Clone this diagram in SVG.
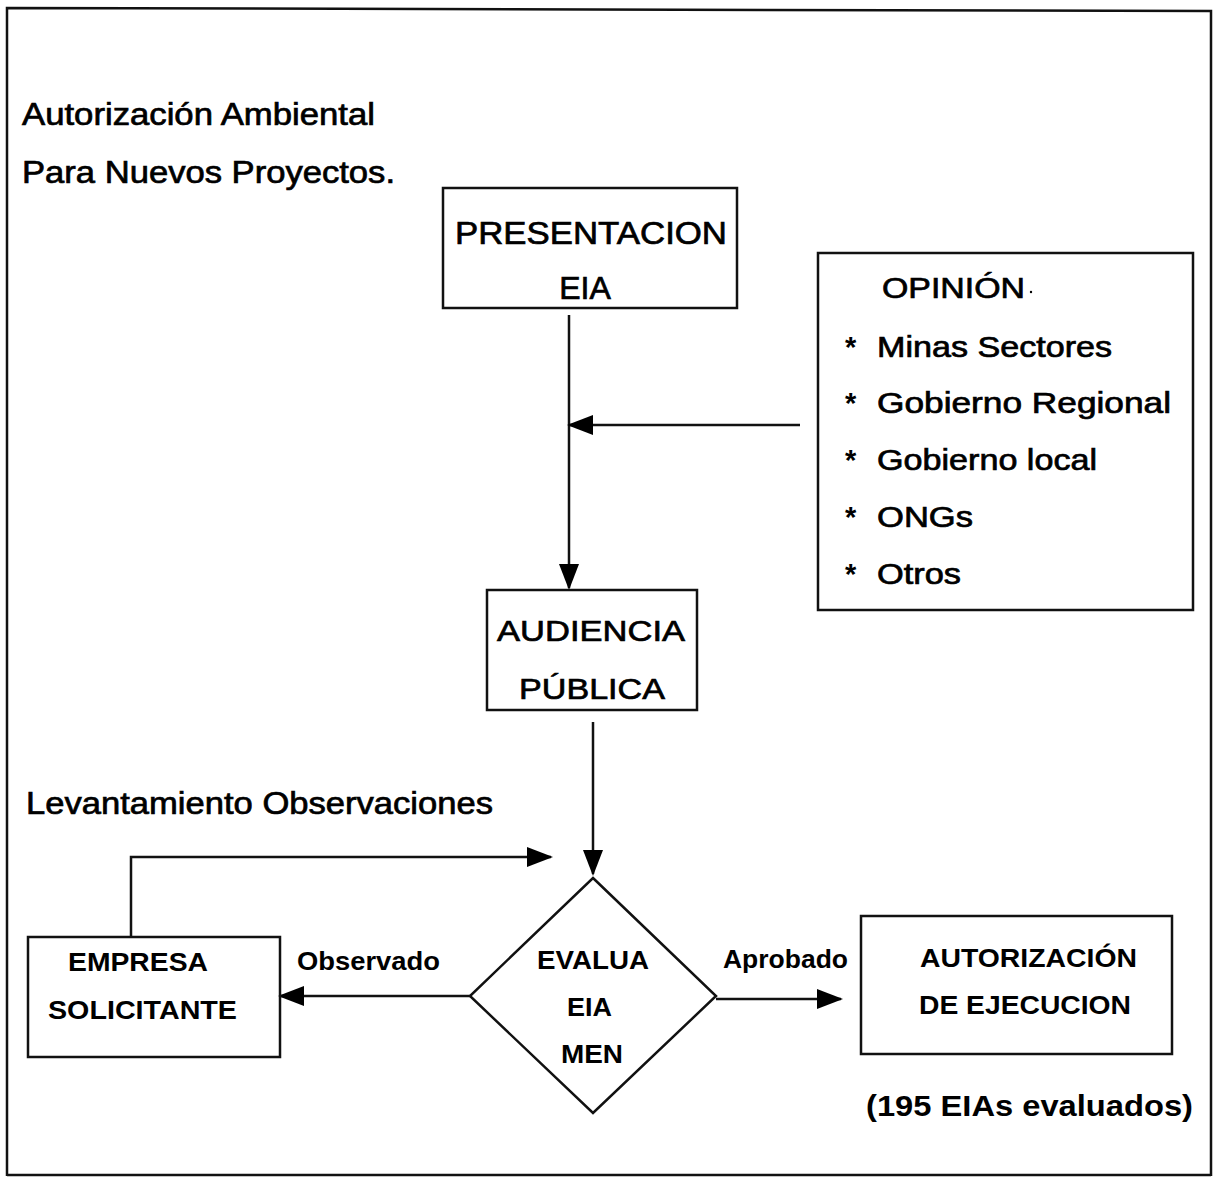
<svg xmlns="http://www.w3.org/2000/svg" width="1213" height="1178" viewBox="0 0 1213 1178">
<defs>
<style>
.t{font-family:"Liberation Sans",Arial,sans-serif;fill:#000;}
.r{stroke:#000;stroke-width:0.7;}
.b{font-weight:bold;}
.box{fill:none;stroke:#111;stroke-width:2.5;}
.ln{fill:none;stroke:#111;stroke-width:2.5;}
</style>
<marker id="ahb" viewBox="0 0 26 20" refX="24" refY="10" markerWidth="26" markerHeight="20" markerUnits="userSpaceOnUse" orient="auto">
<path d="M0,0 L26,10 L0,20 z" fill="#000"/>
</marker>
</defs>
<rect width="1213" height="1178" fill="#fff"/>
<path d="M7,1176 L7,8 L1211,11 L1211,1176" class="ln" stroke-width="2"/>
<path d="M7,1175 L1211,1175" class="ln" stroke-width="1.5" stroke="#444"/>

<text class="t r" x="22" y="125" font-size="31" textLength="353" lengthAdjust="spacingAndGlyphs">Autorización Ambiental</text>
<text class="t r" x="22" y="183" font-size="31" textLength="373" lengthAdjust="spacingAndGlyphs">Para Nuevos Proyectos.</text>
<text class="t r" x="26" y="814" font-size="31" textLength="467" lengthAdjust="spacingAndGlyphs">Levantamiento Observaciones</text>

<g id="connectors">
<path class="ln" d="M569,315 L569,588" marker-end="url(#ahb)"/>
<path class="ln" d="M800,425 L569,425" marker-end="url(#ahb)"/>
<path class="ln" d="M593,722 L593,874" marker-end="url(#ahb)"/>
<path class="ln" d="M131,937 L131,857 L551,857" marker-end="url(#ahb)"/>
<path class="ln" d="M470,996 L280,996" marker-end="url(#ahb)"/>
<path class="ln" d="M716,999 L841,999" marker-end="url(#ahb)"/>
</g>

<g id="presentacion">
<rect class="box" x="443" y="188" width="294" height="120"/>
<text class="t r" x="455" y="244" font-size="32" textLength="272" lengthAdjust="spacingAndGlyphs">PRESENTACION</text>
<text class="t r" x="585" y="299" font-size="32" text-anchor="middle">EIA</text>
</g>

<g id="opinion">
<rect class="box" x="818" y="253" width="375" height="357"/>
<text class="t r" x="882" y="298" font-size="29" textLength="143" lengthAdjust="spacingAndGlyphs">OPINIÓN</text>
<circle cx="1031" cy="292" r="1.2" fill="#000"/>
<g class="t" font-size="29">
<text x="845" y="357" class="b">*</text>
<text x="877" y="357" class="r" stroke-width="1.3" textLength="235" lengthAdjust="spacingAndGlyphs">Minas Sectores</text>
<text x="845" y="413" class="b">*</text>
<text x="877" y="413" class="r" textLength="294" lengthAdjust="spacingAndGlyphs">Gobierno  Regional</text>
<text x="845" y="470" class="b">*</text>
<text x="877" y="470" class="r" textLength="220" lengthAdjust="spacingAndGlyphs">Gobierno local</text>
<text x="845" y="527" class="b">*</text>
<text x="877" y="527" class="r" textLength="96" lengthAdjust="spacingAndGlyphs">ONGs</text>
<text x="845" y="584" class="b">*</text>
<text x="877" y="584" class="r" textLength="84" lengthAdjust="spacingAndGlyphs">Otros</text>
</g>
</g>

<g id="audiencia">
<rect class="box" x="487" y="590" width="210" height="120"/>
<text class="t r" x="497" y="641" font-size="30" textLength="188" lengthAdjust="spacingAndGlyphs">AUDIENCIA</text>
<text class="t r" x="519" y="699" font-size="30" textLength="146" lengthAdjust="spacingAndGlyphs">PÚBLICA</text>
</g>

<g id="empresa">
<rect class="box" x="28" y="937" width="252" height="120"/>
<text class="t b" x="68" y="971" font-size="25" textLength="140" lengthAdjust="spacingAndGlyphs">EMPRESA</text>
<text class="t b" x="48" y="1019" font-size="25" textLength="189" lengthAdjust="spacingAndGlyphs">SOLICITANTE</text>
</g>
<text class="t b" x="297" y="970" font-size="25" textLength="143" lengthAdjust="spacingAndGlyphs">Observado</text>

<g id="evalua">
<path class="box" d="M593,878 L716,996 L593,1113 L470,996 Z"/>
<text class="t b" x="537" y="969" font-size="25" fill="#222" textLength="112" lengthAdjust="spacingAndGlyphs">EVALUA</text>
<text class="t b" x="567" y="1016" font-size="25" fill="#222" textLength="45" lengthAdjust="spacingAndGlyphs">EIA</text>
<text class="t b" x="561" y="1063" font-size="25" fill="#222" textLength="62" lengthAdjust="spacingAndGlyphs">MEN</text>
</g>
<text class="t b" x="723" y="968" font-size="25" textLength="125" lengthAdjust="spacingAndGlyphs">Aprobado</text>

<g id="autorizacion">
<rect class="box" x="861" y="916" width="311" height="138"/>
<text class="t b" x="920" y="967" font-size="25" textLength="217" lengthAdjust="spacingAndGlyphs">AUTORIZACIÓN</text>
<text class="t b" x="919" y="1014" font-size="25" textLength="212" lengthAdjust="spacingAndGlyphs">DE EJECUCION</text>
</g>
<text class="t b" x="866" y="1116" font-size="29" textLength="327" lengthAdjust="spacingAndGlyphs">(195 EIAs evaluados)</text>
</svg>
